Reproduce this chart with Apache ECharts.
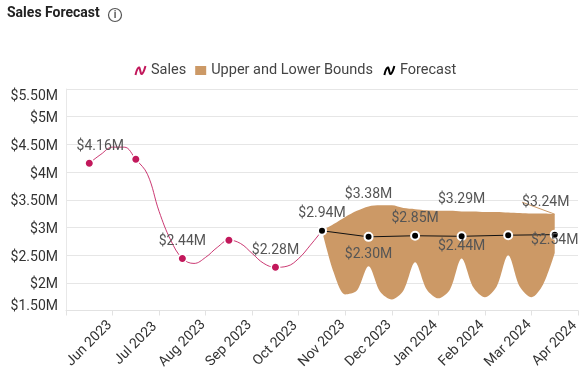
<!DOCTYPE html>
<html>
<head>
<meta charset="utf-8">
<style>
  html, body { margin: 0; padding: 0; background: #fff; }
  #chart { width: 585px; height: 383px; }
</style>
<script src="https://cdn.jsdelivr.net/npm/echarts@6/dist/echarts.min.js"></script>
</head>
<body>
<div id="chart"></div>
<script>
// values in $M
var months = ["Jun 2023", "Jul 2023", "Aug 2023", "Sep 2023", "Oct 2023", "Nov 2023",
  "Dec 2023", "Jan 2024", "Feb 2024", "Mar 2024", "Apr 2024"];
var sales = [4.16, 4.23, 2.44, 2.77, 2.28, 2.94, null, null, null, null, null];
var forecast = [null, null, null, null, null, 2.94, 2.83, 2.85, 2.84, 2.86, 2.87];
var upperLabels = [null, null, null, null, null, null, 3.38, null, 3.29, null, 3.24];
var lowerLabels = [null, null, null, null, null, null, 2.30, null, 2.44, null, 2.54];
var salesLabelled = ["Jun 2023", "Aug 2023", "Oct 2023", "Nov 2023"];
var forecastLabelled = ["Jan 2024"];

// outline of the curves, one reading every quarter of a month
var salesCurve = [4.16, 4.32, 4.45, 4.45, 4.23, 3.96, 3.29, 2.77, 2.44, 2.35, 2.46, 2.64, 2.77,
  2.71, 2.53, 2.35, 2.28, 2.30, 2.44, 2.68, 2.94];
var bandUpper = [2.94, 3.06, 3.19, 3.30, 3.38, 3.40, 3.40, 3.35, 3.33, 3.31, 3.30, 3.30, 3.29,
  3.29, 3.28, 3.28, 3.27, 3.26, 3.25, 3.25, 3.24];
var bandLower = [2.94, 2.19, 1.79, 1.86, 2.30, 1.84, 1.70, 1.86, 2.37, 1.88, 1.72, 1.88, 2.44,
  1.92, 1.74, 1.93, 2.50, 1.93, 1.74, 1.97, 2.54];

var SALES_COLOR = "#c2185b";
var BAND_COLOR = "#cc9966";
var FONT = "Roboto";

// hidden category axis with a step every quarter of a month, edge to edge of the plot
var quarterSteps = [];
for (var q = 0; q <= months.length * 4; q++) quarterSteps.push(q);
var SALES_START = 2; // middle of Jun 2023
var BAND_START = 22; // middle of Nov 2023

function money(v) {
  return "$" + (v % 1 ? v.toFixed(2) : v) + "M";
}
function pad(values, start) {
  var out = [];
  for (var i = 0; i < start; i++) out.push(null);
  return out.concat(values);
}
function labelled(values, names) {
  return values.map(function (v, i) {
    return { value: v, label: { show: names.indexOf(months[i]) >= 0 } };
  });
}

var dataLabel = { show: true, position: "top", distance: 5, color: "#555", fontSize: 14, fontFamily: FONT,
  formatter: function (p) { return money(p.value); } };
var squiggle = "path://M1 10 C2 5 4 1 5 3 C6 5 6 9 7 9 C9 9 10 4 11 1";

var option = {
  animation: false,
  title: {
    text: "Sales Forecast", left: 7, top: 6, padding: 0,
    textStyle: { fontFamily: FONT, fontSize: 14, fontWeight: "bold", color: "#222" },
  },
  graphic: [
    { type: "circle", shape: { cx: 115, cy: 15, r: 6.5 }, style: { fill: "none", stroke: "#555", lineWidth: 1.2 } },
    { type: "text", x: 115, y: 15, style: { text: "i", fill: "#555", font: "bold 10px Roboto", align: "center", verticalAlign: "middle" } },
  ],
  legend: {
    top: 58, left: 128, itemWidth: 11, itemHeight: 9, itemGap: 9,
    textStyle: { fontFamily: FONT, fontSize: 14.5, color: "#444" },
    data: [
      { name: "Sales", icon: squiggle, itemStyle: { color: "none", borderColor: SALES_COLOR, borderWidth: 2 } },
      { name: "Upper and Lower Bounds", icon: "rect", itemStyle: { color: BAND_COLOR } },
      { name: "Forecast", icon: squiggle, itemStyle: { color: "none", borderColor: "#000", borderWidth: 2 } },
    ],
  },
  grid: { left: 66, right: 7, top: 89, height: 221.5, containLabel: false },
  xAxis: [
    {
      type: "category", data: months, boundaryGap: true,
      axisLine: { lineStyle: { color: "#e2e2e2" } },
      axisTick: { show: true, length: 5, lineStyle: { color: "#e2e2e2" } },
      axisLabel: { interval: 0, rotate: 45, align: "center", verticalAlign: "middle", margin: 33,
        color: "#333", fontSize: 14, fontFamily: FONT },
    },
    { type: "category", data: quarterSteps, boundaryGap: false, show: false },
  ],
  yAxis: {
    type: "value", min: 1.5, max: 5.5, interval: 0.5,
    axisLine: { show: true, lineStyle: { color: "#e8e8e8" } },
    axisTick: { show: false },
    splitLine: { lineStyle: { color: "#e6e6e6" } },
    axisLabel: {
      margin: 8,
      formatter: function (v) {
        var key = v === 5.5 ? "top" : v === 1.5 ? "bottom" : "mid";
        return "{" + key + "|" + money(v) + "}";
      },
      rich: {
        top: { color: "#333", fontSize: 14, fontFamily: FONT, padding: [14, 0, 0, 0] },
        mid: { color: "#333", fontSize: 14, fontFamily: FONT, padding: [4, 0, 0, 0] },
        bottom: { color: "#333", fontSize: 14, fontFamily: FONT, padding: [0, 0, 9, 0] },
      },
    },
  },
  series: [
    {
      name: "bandBase", type: "line", xAxisIndex: 1, stack: "band", smooth: 0.3, symbol: "none",
      lineStyle: { opacity: 0 }, data: pad(bandLower, BAND_START),
    },
    {
      name: "Upper and Lower Bounds", type: "line", xAxisIndex: 1, stack: "band", smooth: 0.3, symbol: "none",
      lineStyle: { opacity: 0 }, areaStyle: { color: BAND_COLOR, opacity: 1 }, itemStyle: { color: BAND_COLOR },
      data: pad(bandUpper.map(function (v, i) { return v - bandLower[i]; }), BAND_START),
    },
    {
      name: "Sales", type: "line", xAxisIndex: 1, smooth: 0.4, symbol: "none", z: 3,
      lineStyle: { color: SALES_COLOR, width: 1, opacity: 0.85 }, itemStyle: { color: SALES_COLOR },
      data: pad(salesCurve, SALES_START),
    },
    {
      name: "Sales", type: "line", symbol: "circle", symbolSize: 8.5, z: 4,
      lineStyle: { width: 0 }, itemStyle: { color: SALES_COLOR, borderColor: "#fff", borderWidth: 1.5 },
      label: dataLabel,
      labelLayout: function (p) { return p.dataIndex === 0 ? { dx: 11 } : {}; },
      data: labelled(sales, salesLabelled),
    },
    {
      name: "Forecast", type: "line", symbol: "circle", symbolSize: 8, showAllSymbol: true, z: 5,
      lineStyle: { color: "#111", width: 1 }, itemStyle: { color: "#000", borderColor: "#fff", borderWidth: 2 },
      label: dataLabel,
      data: labelled(forecast, forecastLabelled),
    },
    {
      name: "upperLabels", type: "line", symbol: "circle", symbolSize: 0, z: 6,
      lineStyle: { width: 0 }, label: dataLabel,
      labelLayout: function (p) { return p.dataIndex === 10 ? { dx: -9 } : {}; },
      data: upperLabels.map(function (v, i) {
        return { value: v, labelLine: { show: i === 10, lineStyle: { color: BAND_COLOR, width: 1 } } };
      }),
    },
    {
      name: "lowerLabels", type: "line", symbol: "circle", symbolSize: 0, z: 6,
      lineStyle: { width: 0 }, label: dataLabel,
      data: lowerLabels,
    },
  ],
};

var chart = echarts.init(document.getElementById("chart"));
chart.setOption(option);
</script>
</body>
</html>
